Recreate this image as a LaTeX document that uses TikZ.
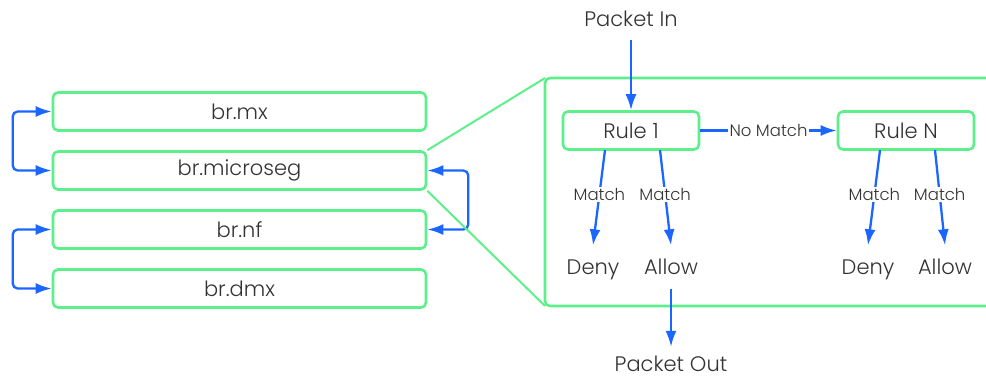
\documentclass[tikz,border=0pt]{standalone}
\usepackage{fontspec}
\setmainfont{Poppins}[UprightFont=* Light]
\usetikzlibrary{arrows.meta}
\definecolor{grn}{HTML}{5DF08A}
\definecolor{blu}{HTML}{1A66FF}
\definecolor{ink}{HTML}{333333}
\begin{document}
\begin{tikzpicture}[x=1pt,y=-1pt,
  every node/.style={text=ink,font=\fontsize{21}{24}\selectfont},
  bridge/.style={draw=grn,line width=2.6pt,rounded corners=5pt,minimum width=373pt,minimum height=38pt,inner sep=0pt},
  rulebox/.style={draw=grn,line width=2.6pt,rounded corners=5pt,minimum width=136pt,minimum height=38pt,inner sep=0pt},
  verdict/.style={text height=15pt,text depth=4pt,inner sep=0pt},
  tip/.style={-{Latex[length=16pt,width=11pt]}},
  flow/.style={draw=blu,line width=2.3pt,tip},
  loop/.style={draw=blu,line width=2.3pt,rounded corners=5pt,{Latex[length=16pt,width=11pt]}-{Latex[length=16pt,width=11pt]}},
  lbl/.style={font=\fontsize{16.5}{18}\selectfont,fill=white,inner sep=1.5pt},
  zoomline/.style={draw=grn,line width=2pt},
]
\useasboundingbox (0,0) rectangle (986,378);

% bridge stack
\node[bridge] (mx)  at (239.5,111.5) {br.mx};
\node[bridge] (ms)  at (239.5,170.5) {br.microseg};
\node[bridge] (nf)  at (239.5,229.5) {br.nf};
\node[bridge] (dmx) at (239.5,288.5) {br.dmx};

% links between bridges
\draw[loop] (mx.west) -- ++(-39,0) |- (ms.west);
\draw[loop] (nf.west) -- ++(-39,0) |- (dmx.west);
\draw[loop] (ms.east) -- ++(41,0) |- (nf.east);

% expanded view of br.microseg
\coordinate (zt) at (545,78);
\coordinate (zb) at (545,306);
\draw[zoomline] (ms.north east) -- (zt);
\draw[zoomline] (ms.south east) -- (zb);
\draw[draw=grn,line width=2.6pt,rounded corners=5pt] (990,78) -- (545,78) -- (545,306) -- (990,306);

% rule chain
\node[verdict] (in) at (631,21) {Packet In};
\node[rulebox] (r1) at (631,130.5) {Rule 1};
\node[rulebox] (rn) at (906,130.5) {Rule N};
\draw[flow] ([yshift=-9pt]in.south) -- (r1.north);
\draw[flow] (r1.east) -- node[lbl]{No Match} (rn.west);

\node[verdict] (d1) at (593,269) {Deny};
\node[verdict] (a1) at (671,269) {Allow};
\node[verdict] (dn) at (868,269) {Deny};
\node[verdict] (an) at (945,269) {Allow};

\coordinate (r1d) at (605,150);
\coordinate (r1a) at (660,150);
\coordinate (rnd) at (880,150);
\coordinate (rna) at (935,150);
\draw[flow] (r1d) -- node[lbl,pos=0.47]{Match} ([yshift=14pt]d1.north);
\draw[flow] (r1a) -- node[lbl,pos=0.47]{Match} ([yshift=14pt]a1.north);
\draw[flow] (rnd) -- node[lbl,pos=0.47]{Match} ([yshift=14pt]dn.north);
\draw[flow] (rna) -- node[lbl,pos=0.47]{Match} ([yshift=14pt]an.north);

\node[verdict] (out) at (671,365.5) {Packet Out};
\draw[flow] ([yshift=-10pt]a1.south) -- ([yshift=9pt]out.north);
\end{tikzpicture}
\end{document}
